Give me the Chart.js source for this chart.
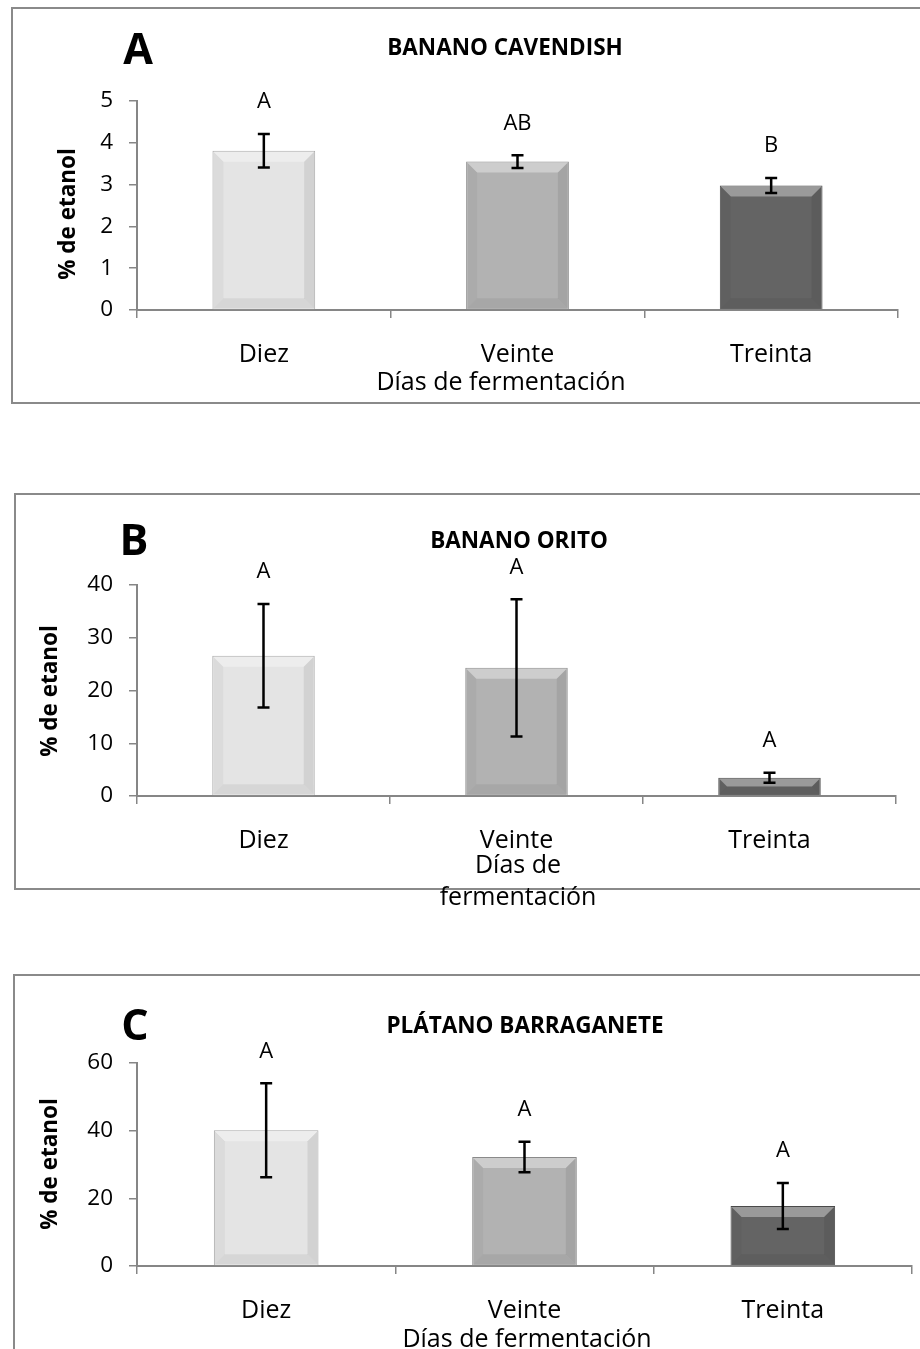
<!DOCTYPE html>
<html><head><meta charset="utf-8">
<script src="https://cdn.jsdelivr.net/npm/chart.js@4.4.1/dist/chart.umd.min.js"></script>
<style>
html,body{margin:0;padding:0;width:920px;height:1349px;overflow:hidden;background:#fff;}
.frame{position:absolute;border:2px solid #8a8a8a;box-sizing:border-box;}
canvas{position:absolute;left:0;}
</style></head><body>
<div class="frame" style="left:11px;top:7px;width:940px;height:397px"></div>
<div class="frame" style="left:14px;top:493px;width:940px;height:397px"></div>
<div class="frame" style="left:13px;top:974px;width:940px;height:420px"></div>
<canvas id="cA" width="920" height="420" style="top:0px"></canvas>
<canvas id="cB" width="920" height="440" style="top:480px"></canvas>
<canvas id="cC" width="920" height="420" style="top:960px"></canvas>
<script>
const categories = ['Diez', 'Veinte', 'Treinta'];
const axisTitleX = 'Días de fermentación';
const axisTitleXWrapped = ['Días de', 'fermentación'];
const axisTitleY = '% de etanol';
const barColors = ['#e4e4e4', '#b2b2b2', '#646464'];
const barBorders = ['#a9a9a9', '#8a8a8a', '#4a4a4a'];

const meansA = [3.81, 3.55, 2.98];
const errA = [0.40, 0.15, 0.18];
const lettersA = ['A', 'AB', 'B'];
const ticksA = [0, 1, 2, 3, 4, 5];

const meansB = [26.6, 24.3, 3.45];
const errB = [9.8, 13.0, 0.95];
const lettersB = ['A', 'A', 'A'];
const ticksB = [0, 10, 20, 30, 40];

const meansC = [40.1, 32.2, 17.7];
const errC = [13.9, 4.5, 6.8];
const lettersC = ['A', 'A', 'A'];
const ticksC = [0, 20, 40, 60];

const titles = ['BANANO CAVENDISH', 'BANANO ORITO', 'PLÁTANO BARRAGANETE'];
const panelLetters = ['A', 'B', 'C'];

const FONT = '"Open Sans", "Noto Sans", sans-serif';

function poly(ctx, pts, fill) {
  ctx.beginPath();
  ctx.moveTo(pts[0][0], pts[0][1]);
  for (let i = 1; i < pts.length; i++) ctx.lineTo(pts[i][0], pts[i][1]);
  ctx.closePath();
  ctx.fillStyle = fill;
  ctx.fill();
}

const decor = {
  id: 'decor',
  afterDatasetsDraw(chart, args, o) {
    const ctx = chart.ctx;
    const meta = chart.getDatasetMeta(0);
    const ys = chart.scales.y;
    ctx.save();
    meta.data.forEach((bar, i) => {
      const p = bar.getProps(['x', 'y', 'base', 'width'], true);
      const l = p.x - p.width / 2 + 1, r = p.x + p.width / 2 - 1, t = p.y + 1, b = p.base - 1;
      const bv = Math.min(10, (b - t) / 2);
      poly(ctx, [[l, t], [r, t], [r - bv, t + bv], [l + bv, t + bv]], 'rgba(255,255,255,0.35)');
      poly(ctx, [[l, t], [l + bv, t + bv], [l + bv, b - bv], [l, b]], 'rgba(0,0,0,0.04)');
      poly(ctx, [[r, t], [r, b], [r - bv, b - bv], [r - bv, t + bv]], 'rgba(0,0,0,0.08)');
      poly(ctx, [[l, b], [l + bv, b - bv], [r - bv, b - bv], [r, b]], 'rgba(0,0,0,0.06)');
      // error bars
      const v = o.means[i], e = o.errs[i];
      const yt = ys.getPixelForValue(v + e), yb = ys.getPixelForValue(v - e);
      ctx.strokeStyle = '#000';
      ctx.lineWidth = 2.5;
      ctx.beginPath();
      ctx.moveTo(p.x, yt); ctx.lineTo(p.x, yb);
      ctx.moveTo(p.x - 6, yt); ctx.lineTo(p.x + 6, yt);
      ctx.moveTo(p.x - 6, yb); ctx.lineTo(p.x + 6, yb);
      ctx.stroke();
      // significance letters
      ctx.fillStyle = '#000';
      ctx.font = '22px ' + FONT;
      ctx.textAlign = 'center';
      ctx.textBaseline = 'middle';
      ctx.fillText(o.letters[i], p.x, yt - 32);
    });
    ctx.fillStyle = '#000';
    ctx.textAlign = 'center';
    ctx.textBaseline = 'middle';
    // chart title and panel letter
    ctx.font = 'bold 22.5px ' + FONT;
    ctx.fillText(o.title, o.titleX, o.titleY);
    ctx.font = 'bold 43px ' + FONT;
    ctx.fillText(o.letter, o.letterX, o.letterY);
    // x axis title (one or more lines)
    ctx.font = '25px ' + FONT;
    o.xTitle.forEach((line, k) => ctx.fillText(line, o.xTitleX, o.xTitleY + k * o.xTitleGap));
    // y axis title
    ctx.save();
    ctx.translate(o.yTitleX, o.yTitleY);
    ctx.rotate(-Math.PI / 2);
    ctx.font = 'bold 22.5px ' + FONT;
    ctx.fillText(axisTitleY, 0, 0);
    ctx.restore();
    ctx.restore();
  }
};

function makeChart(id, cfg) {
  const W = 920, H = cfg.H;
  return new Chart(document.getElementById(id), {
    type: 'bar',
    data: {
      labels: categories,
      datasets: [{
        data: cfg.means,
        backgroundColor: barColors,
        borderColor: barBorders,
        borderWidth: 1,
        barPercentage: 0.405,
        categoryPercentage: 1.0
      }]
    },
    options: {
      responsive: false,
      animation: false,
      events: [],
      layout: { padding: { top: cfg.top, right: W - cfg.right, left: 0, bottom: 0 } },
      plugins: {
        legend: { display: false },
        tooltip: { enabled: false },
        decor: cfg
      },
      scales: {
        x: {
          offset: true,
          grid: { offset: true, drawOnChartArea: false, drawTicks: true, tickLength: 8, tickColor: '#868686', lineWidth: 1.5 },
          border: { color: '#868686', width: 2 },
          ticks: { padding: 22, color: '#000', font: { family: FONT, size: 25 } },
          afterFit: s => { s.height = H - cfg.bottom; }
        },
        y: {
          min: 0,
          max: cfg.ticks[cfg.ticks.length - 1],
          afterBuildTicks: s => { s.ticks = cfg.ticks.map(v => ({ value: v })); },
          grid: { drawOnChartArea: false, drawTicks: true, tickLength: 8, tickColor: '#868686', lineWidth: 1.5 },
          border: { color: '#868686', width: 2 },
          ticks: { padding: 16, color: '#000', font: { family: FONT, size: 22.5 } },
          afterFit: s => { s.width = 137; }
        }
      }
    },
    plugins: [decor]
  });
}

makeChart('cA', {
  H: 420, top: 101, bottom: 310, right: 898,
  means: meansA, errs: errA, letters: lettersA, ticks: ticksA,
  title: titles[0], titleX: 505, titleY: 49, letter: panelLetters[0], letterX: 138, letterY: 52,
  xTitle: [axisTitleX], xTitleX: 501, xTitleY: 383, xTitleGap: 0,
  yTitleX: 69, yTitleY: 214
});
makeChart('cB', {
  H: 440, top: 105, bottom: 316, right: 896,
  means: meansB, errs: errB, letters: lettersB, ticks: ticksB,
  title: titles[1], titleX: 519, titleY: 62, letter: panelLetters[1], letterX: 134, letterY: 63,
  xTitle: axisTitleXWrapped, xTitleX: 518, xTitleY: 386, xTitleGap: 32,
  yTitleX: 51, yTitleY: 211
});
makeChart('cC', {
  H: 420, top: 103, bottom: 306, right: 912,
  means: meansC, errs: errC, letters: lettersC, ticks: ticksC,
  title: titles[2], titleX: 525, titleY: 67, letter: panelLetters[2], letterX: 135, letterY: 68,
  xTitle: [axisTitleX], xTitleX: 527, xTitleY: 380, xTitleGap: 0,
  yTitleX: 51, yTitleY: 204
});
</script>
</body></html>
